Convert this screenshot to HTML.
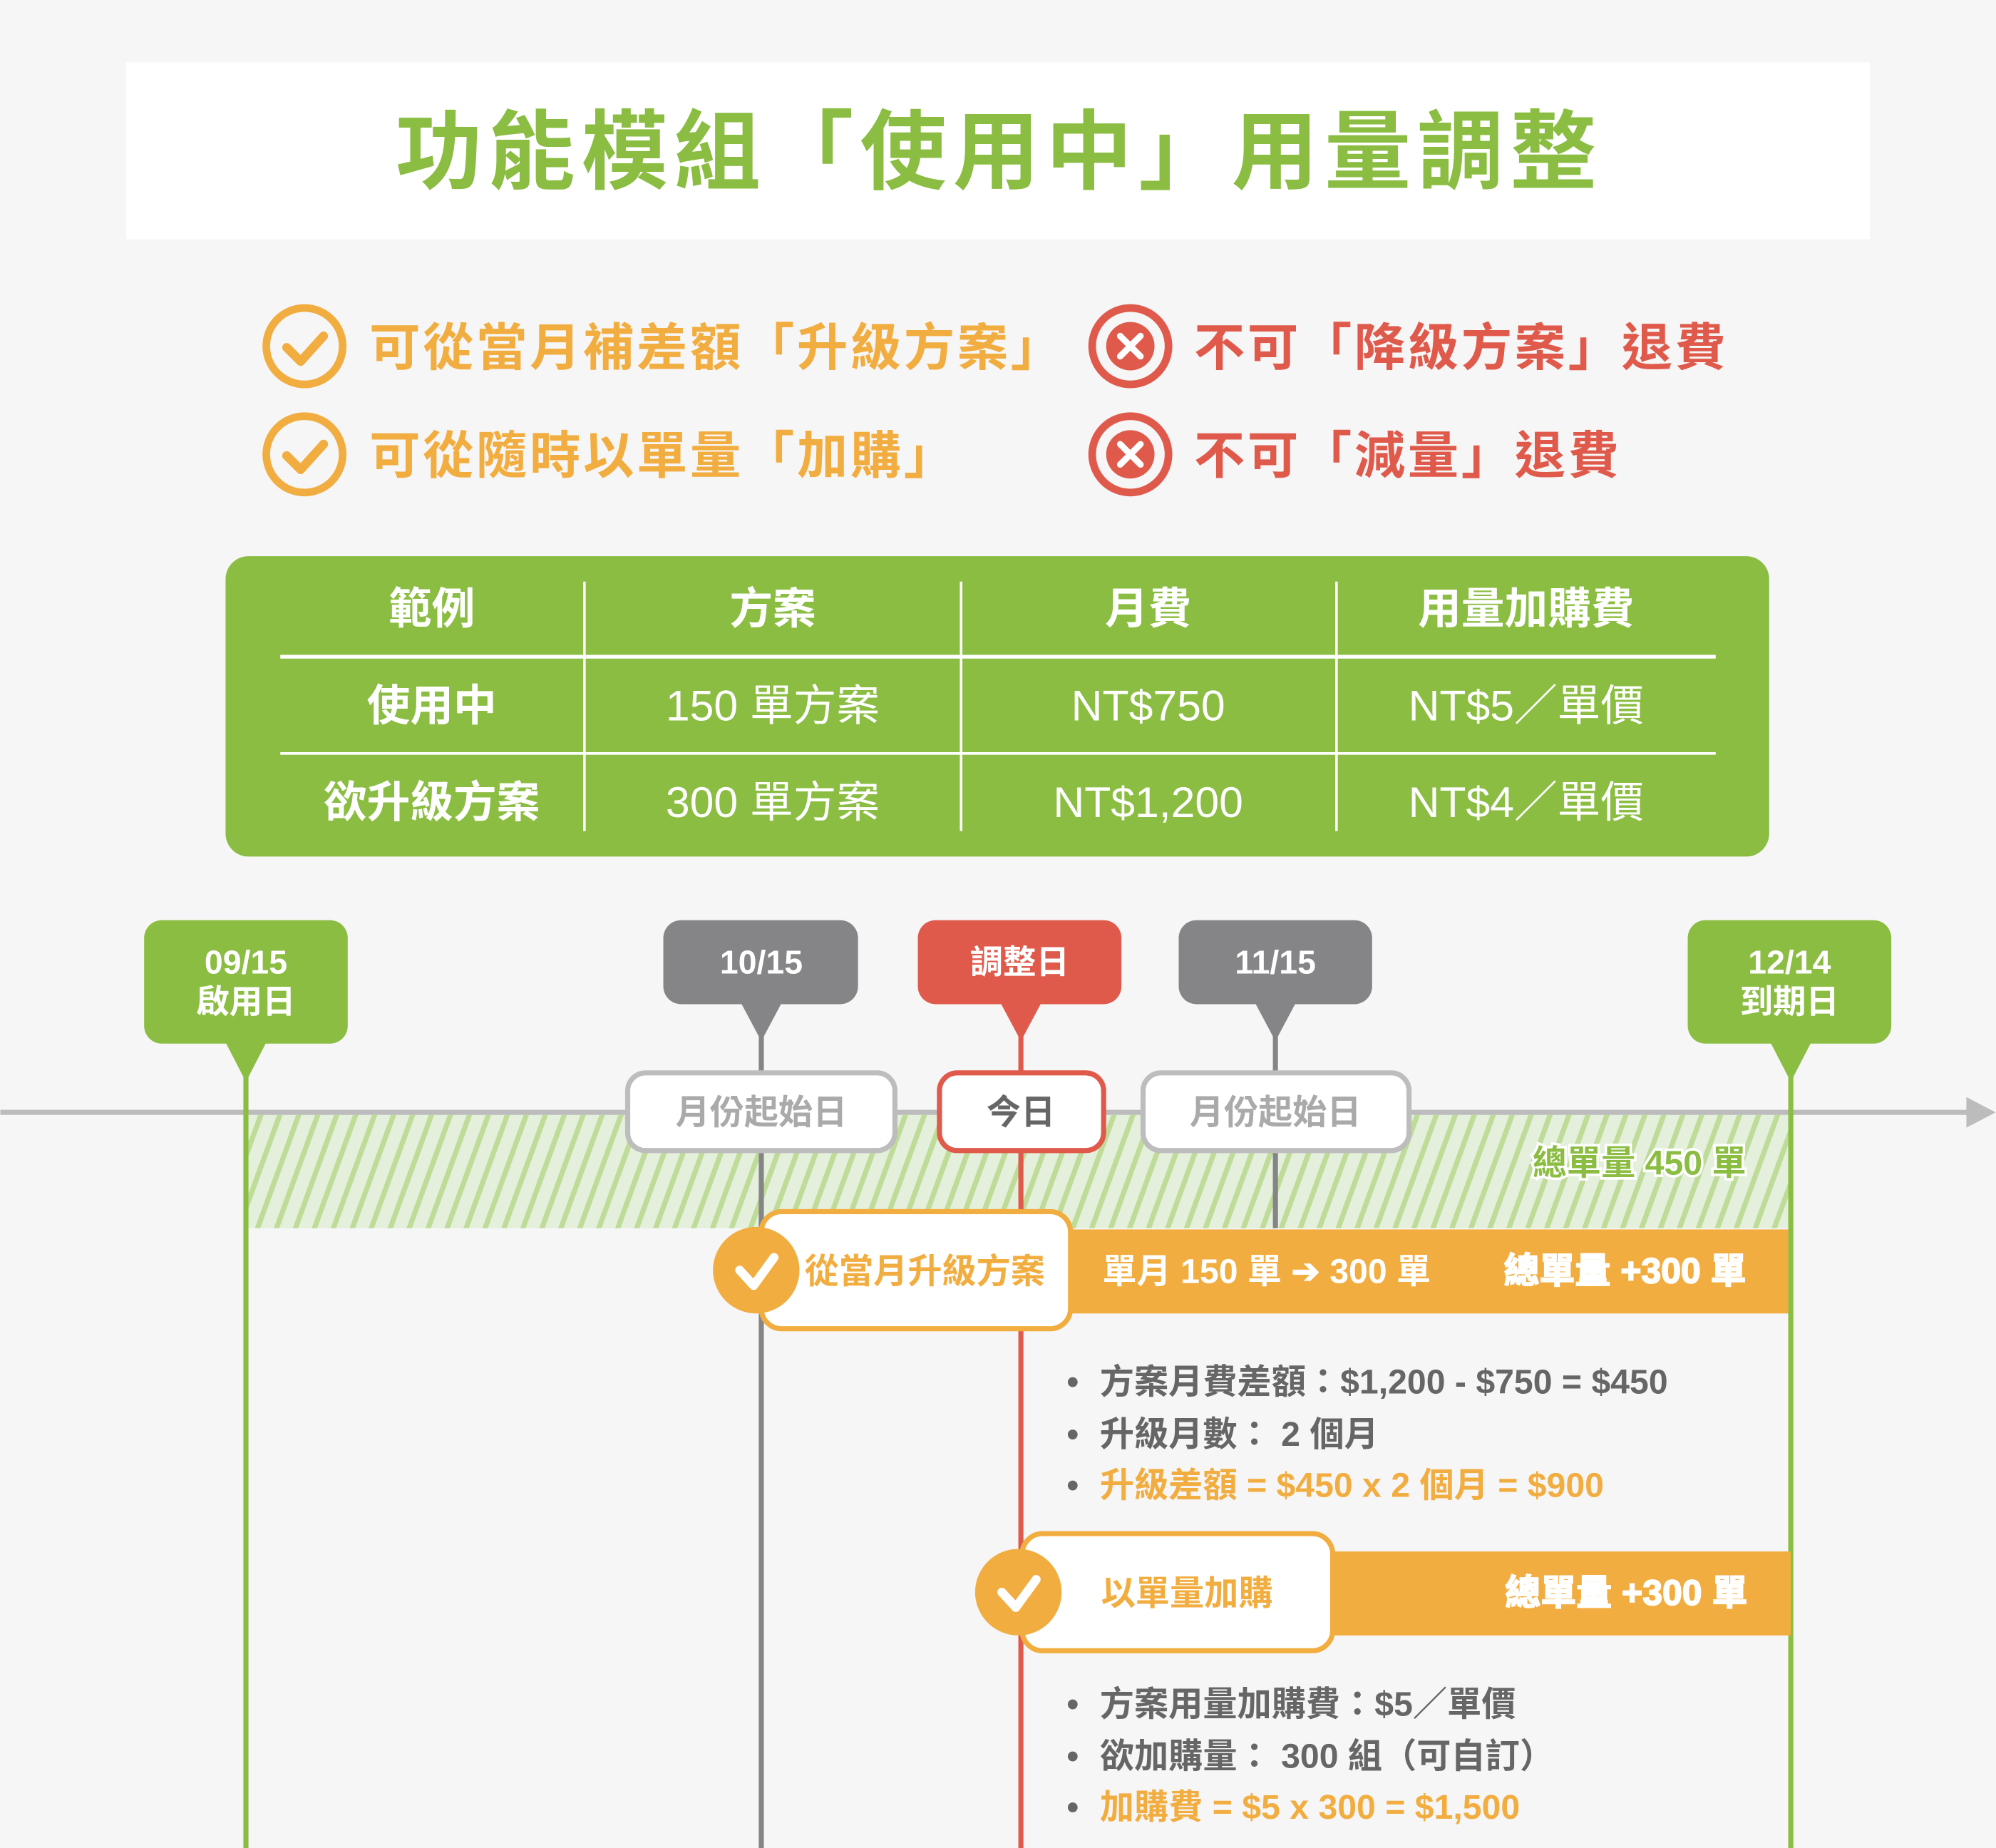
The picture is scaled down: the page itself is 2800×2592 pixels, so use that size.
<!DOCTYPE html>
<html><head><meta charset="utf-8"><style>
html,body{margin:0;padding:0;background:#f6f6f6}
svg{display:block}
text{font-family:"Liberation Sans","Noto Sans CJK TC",sans-serif;font-weight:bold}
text.n{font-weight:normal}
</style></head><body>
<svg width="2800" height="2592" viewBox="0 0 1568 1452" xmlns="http://www.w3.org/2000/svg">
<defs>
<pattern id="hatch" patternUnits="userSpaceOnUse" width="14" height="14" patternTransform="rotate(20)">
<rect width="14" height="14" fill="#e4efdc"/><rect width="4" height="14" fill="#bedb98"/>
</pattern>
</defs>
<rect width="1568" height="1452" fill="#f6f6f6"/>
<rect x="99" y="49" width="1370" height="139" fill="#fff"/>
<text x="785" y="143" font-size="68" fill="#8abd41" text-anchor="middle" letter-spacing="5">功能模組「使用中」用量調整</text>

<g fill="none" stroke-width="6">
<circle cx="239" cy="272" r="30" stroke="#f2ad40"/><circle cx="239" cy="357" r="30" stroke="#f2ad40"/>
<circle cx="888" cy="272" r="30" stroke="#e05a4c"/><circle cx="888" cy="357" r="30" stroke="#e05a4c"/>
</g>
<g fill="none" stroke-width="7" stroke-linecap="round" stroke-linejoin="round">
<path d="M225 273 L236 284 L254 264" stroke="#f2ad40"/><path d="M225 358 L236 369 L254 349" stroke="#f2ad40"/>
</g>
<circle cx="888" cy="272" r="19" fill="#e05a4c"/><circle cx="888" cy="357" r="19" fill="#e05a4c"/>
<g stroke="#fff" stroke-width="5" stroke-linecap="round">
<path d="M880 264 L896 280 M896 264 L880 280"/><path d="M880 349 L896 365 M896 349 L880 365"/>
</g>
<g font-size="40" letter-spacing="2">
<text x="290" y="287" fill="#f2ad40">可從當月補差額「升級方案」</text>
<text x="290" y="372" fill="#f2ad40">可從隨時以單量「加購」</text>
<text x="938" y="287" fill="#e05a4c">不可「降級方案」退費</text>
<text x="938" y="372" fill="#e05a4c">不可「減量」退費</text>
</g>

<rect x="177" y="437" width="1213" height="236" rx="18" fill="#8abd41"/>
<g stroke="#fff">
<line x1="220" y1="516" x2="1348" y2="516" stroke-width="3"/>
<line x1="220" y1="592" x2="1348" y2="592" stroke-width="2"/>
<line x1="459" y1="457" x2="459" y2="653" stroke-width="2"/>
<line x1="755" y1="457" x2="755" y2="653" stroke-width="2"/>
<line x1="1050" y1="457" x2="1050" y2="653" stroke-width="2"/>
</g>
<g fill="#fff" font-size="34" text-anchor="middle">
<text x="339" y="490">範例</text><text x="607" y="490">方案</text><text x="902" y="490">月費</text><text x="1199" y="490">用量加購費</text>
<text x="339" y="566">使用中</text><text x="339" y="642">欲升級方案</text>
<text class="n" x="607" y="566">150 單方案</text><text class="n" x="902" y="566">NT$750</text><text class="n" x="1199" y="566">NT$5／單價</text>
<text class="n" x="607" y="642">300 單方案</text><text class="n" x="902" y="642">NT$1,200</text><text class="n" x="1199" y="642">NT$4／單價</text>
</g>

<!-- timeline -->
<rect x="195" y="876" width="1210" height="89" fill="url(#hatch)"/>
<line x1="0" y1="874" x2="1548" y2="874" stroke="#bcbcbc" stroke-width="4"/>
<polygon points="1545,862 1568,874 1545,886" fill="#bcbcbc"/>
<line x1="193" y1="840" x2="193" y2="1452" stroke="#8abd41" stroke-width="4"/>
<line x1="1407" y1="840" x2="1407" y2="1452" stroke="#8abd41" stroke-width="4"/>
<line x1="598" y1="810" x2="598" y2="1452" stroke="#858588" stroke-width="4"/>
<line x1="1002" y1="810" x2="1002" y2="965" stroke="#858588" stroke-width="4"/>
<line x1="802" y1="810" x2="802" y2="1452" stroke="#e05a4c" stroke-width="4"/>

<g font-size="26" fill="#fff" text-anchor="middle">
<rect x="113" y="723" width="160" height="97" rx="14" fill="#8abd41"/><polygon points="177,819 209,819 193,850" fill="#8abd41"/>
<text x="193" y="765">09/15</text><text x="193" y="796">啟用日</text>
<rect x="1326" y="723" width="160" height="97" rx="14" fill="#8abd41"/><polygon points="1391,819 1423,819 1407,850" fill="#8abd41"/>
<text x="1406" y="765">12/14</text><text x="1406" y="796">到期日</text>
<rect x="521" y="723" width="153" height="66" rx="14" fill="#858588"/><polygon points="582,788 614,788 598,818" fill="#858588"/>
<text x="598" y="765">10/15</text>
<rect x="721" y="723" width="160" height="66" rx="14" fill="#e05a4c"/><polygon points="786,788 818,788 802,818" fill="#e05a4c"/>
<text x="801" y="765">調整日</text>
<rect x="926" y="723" width="152" height="66" rx="14" fill="#858588"/><polygon points="986,788 1018,788 1002,818" fill="#858588"/>
<text x="1002" y="765">11/15</text>
</g>

<g font-size="27" text-anchor="middle">
<rect x="493" y="843" width="210" height="61" rx="14" fill="#fff" stroke="#bdbdbd" stroke-width="4"/>
<text x="598" y="883" fill="#aaa">月份起始日</text>
<rect x="738" y="843" width="129" height="61" rx="14" fill="#fff" stroke="#e05a4c" stroke-width="4"/>
<text x="802" y="883" fill="#666">今日</text>
<rect x="898" y="843" width="209" height="61" rx="14" fill="#fff" stroke="#bdbdbd" stroke-width="4"/>
<text x="1002" y="883" fill="#aaa">月份起始日</text>
</g>
<text x="1372" y="923" font-size="27" fill="#8abd41" text-anchor="end" stroke="#fff" stroke-width="4" paint-order="stroke">總單量 450 單</text>

<!-- block 1 -->
<rect x="840" y="966" width="565" height="66" fill="#f2ad40"/>
<rect x="598" y="952" width="243" height="92" rx="16" fill="#fff" stroke="#f2ad40" stroke-width="4"/>
<circle cx="594" cy="998" r="34" fill="#f2ad40"/>
<path d="M581 998 L592 1010 L608 988" fill="none" stroke="#fff" stroke-width="7" stroke-linecap="round" stroke-linejoin="round"/>
<text x="632" y="1008" font-size="27" fill="#f2ad40">從當月升級方案</text>
<text x="866" y="1008" font-size="27" fill="#fff">單月 150 單 ➔ 300 單</text>
<text x="1372" y="1008" font-size="28" fill="#fff" text-anchor="end" stroke="#fff" stroke-width="1">總單量 +300 單</text>

<g font-size="27" fill="#666">
<text x="838" y="1095">•</text><text x="864" y="1095">方案月費差額：$1,200 - $750 = $450</text>
<text x="838" y="1136">•</text><text x="864" y="1136">升級月數： 2 個月</text>
<text x="838" y="1176">•</text><text x="864" y="1176" fill="#f2ad40">升級差額 = $450 x 2 個月 = $900</text>
</g>

<!-- block 2 -->
<rect x="1045" y="1219" width="362" height="66" fill="#f2ad40"/>
<rect x="803" y="1205" width="244" height="92" rx="16" fill="#fff" stroke="#f2ad40" stroke-width="4"/>
<circle cx="800" cy="1251" r="34" fill="#f2ad40"/>
<path d="M787 1251 L798 1263 L814 1241" fill="none" stroke="#fff" stroke-width="7" stroke-linecap="round" stroke-linejoin="round"/>
<text x="865" y="1261" font-size="27" fill="#f2ad40">以單量加購</text>
<text x="1373" y="1261" font-size="28" fill="#fff" text-anchor="end" stroke="#fff" stroke-width="1">總單量 +300 單</text>

<g font-size="27" fill="#666">
<text x="838" y="1348">•</text><text x="864" y="1348">方案用量加購費：$5／單價</text>
<text x="838" y="1389">•</text><text x="864" y="1389">欲加購量： 300 組（可自訂）</text>
<text x="838" y="1429">•</text><text x="864" y="1429" fill="#f2ad40">加購費 = $5 x 300 = $1,500</text>
</g>
</svg>
</body></html>
